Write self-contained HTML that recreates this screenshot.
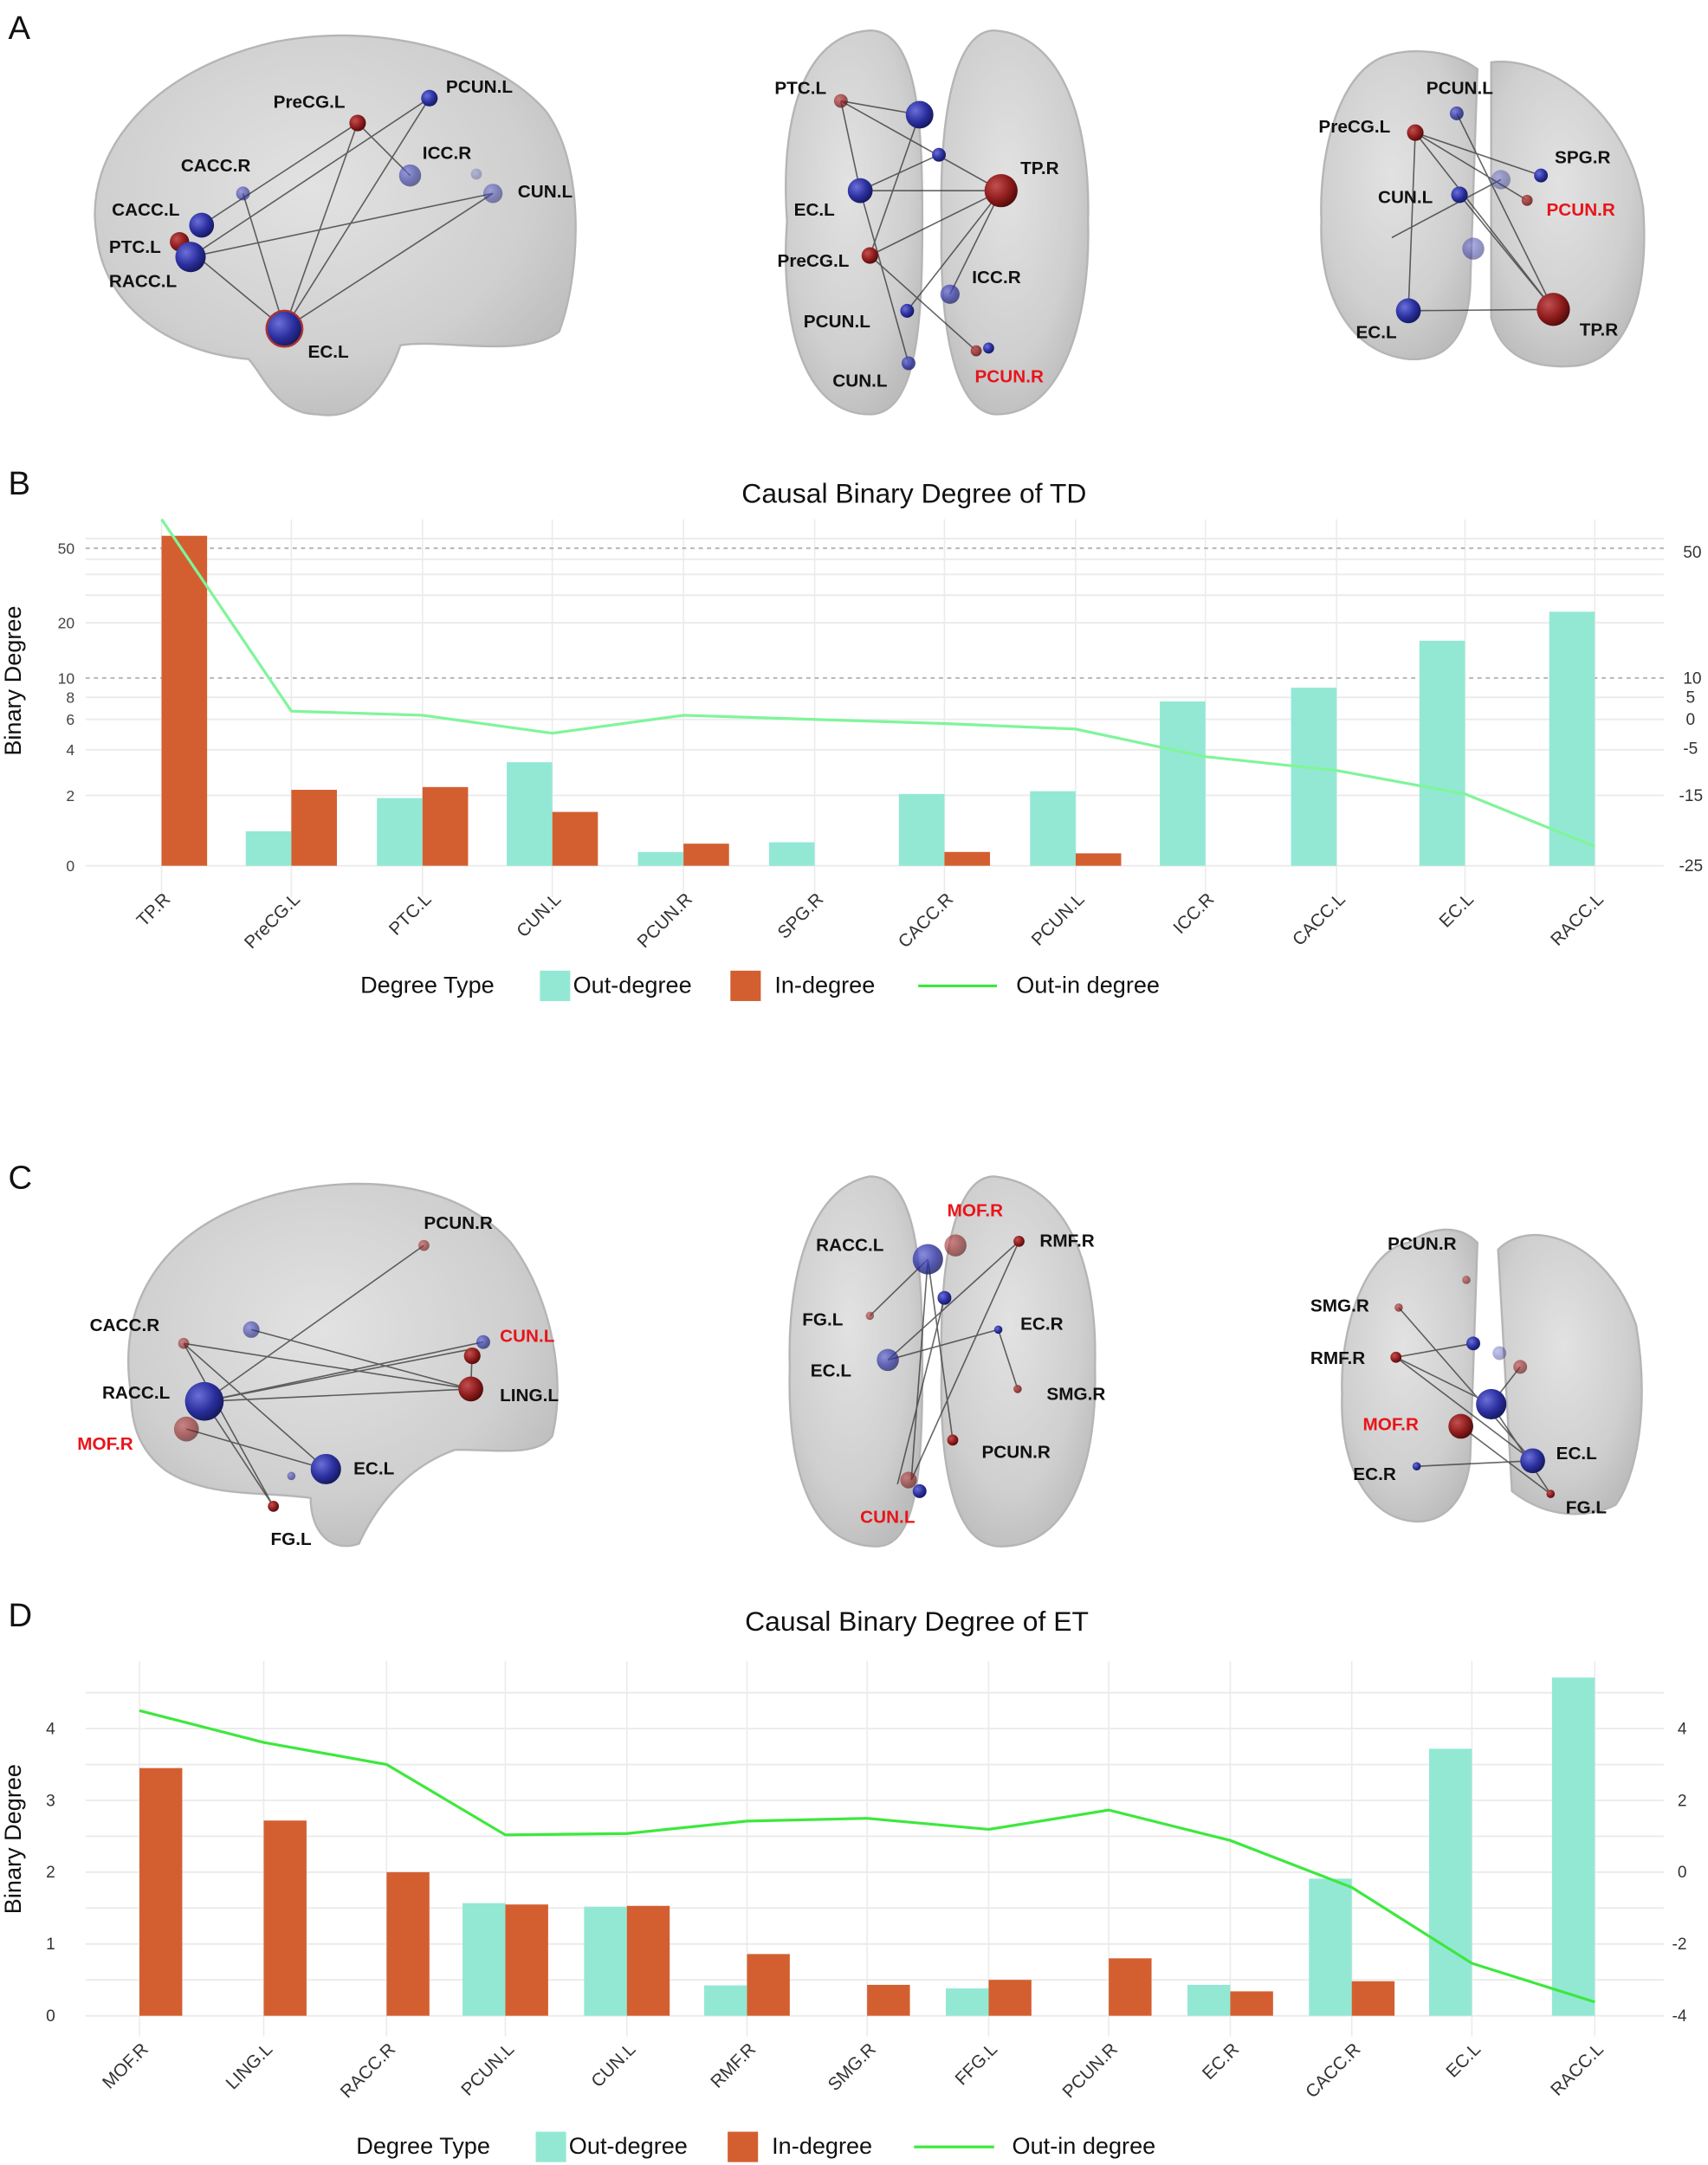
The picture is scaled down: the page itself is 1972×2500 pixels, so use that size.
<!DOCTYPE html>
<html><head><meta charset="utf-8"><style>
html,body{margin:0;padding:0;background:#fff}
svg{display:block}
.nl{font:bold 13px "Liberation Sans",sans-serif;fill:#111}
.nr{font:bold 13px "Liberation Sans",sans-serif;fill:#e8141a}
.pl{font:24px "Liberation Sans",sans-serif;fill:#111}
.tt{font:20px "Liberation Sans",sans-serif;fill:#111}
.tk{font:11px "Liberation Sans",sans-serif;fill:#444}
.tkr{font:12px "Liberation Sans",sans-serif;fill:#333}
.xl{font:13px "Liberation Sans",sans-serif;fill:#333}
.lg{font:17px "Liberation Sans",sans-serif;fill:#111}
.ax{font:17px "Liberation Sans",sans-serif;fill:#111}
.g{stroke:#ebebeb;stroke-width:1.2}
.gv{stroke:#ebebeb;stroke-width:1}
.br{fill:url(#brain);stroke:#b5b5b5;stroke-width:1.5}
.e{stroke:#333;stroke-width:1;opacity:.75}
</style></head><body>
<svg width="1972" height="2500" viewBox="0 0 1237 1568" xmlns="http://www.w3.org/2000/svg">
<defs>
<radialGradient id="brain" cx="45%" cy="40%" r="65%"><stop offset="0" stop-color="#e2e2e2"/><stop offset="0.7" stop-color="#cfcfcf"/><stop offset="1" stop-color="#bcbcbc"/></radialGradient>
<radialGradient id="bl" cx="35%" cy="35%" r="70%"><stop offset="0" stop-color="#6b6fd8"/><stop offset="0.6" stop-color="#2a2f9e"/><stop offset="1" stop-color="#14185a"/></radialGradient>
<radialGradient id="rd" cx="35%" cy="35%" r="70%"><stop offset="0" stop-color="#c25050"/><stop offset="0.6" stop-color="#8e1c1c"/><stop offset="1" stop-color="#4e0b0b"/></radialGradient>
</defs>

<!-- Panel labels -->
<text class="pl" x="6" y="28">A</text>
<text class="pl" x="6" y="358">B</text>
<text class="pl" x="6" y="861">C</text>
<text class="pl" x="6" y="1178">D</text>

<!-- ===== A brains ===== -->
<g>
<path class="br" d="M70,170 C60,110 110,50 200,30 C280,15 360,40 395,80 C425,120 420,200 405,240 C380,260 320,245 290,250 C280,280 260,305 230,300 C200,300 190,270 180,260 C120,255 75,220 70,170 Z"/>
<path class="br" d="M630,22 C580,25 565,90 570,160 C565,230 580,300 630,300 C665,300 668,230 668,160 C668,90 665,22 630,22 Z"/>
<path class="br" d="M720,22 C690,22 680,90 682,160 C680,230 690,300 722,300 C770,300 790,230 788,160 C790,90 770,25 720,22 Z"/>
<path class="br" d="M1005,40 C970,50 955,110 957,160 C955,210 975,255 1020,260 C1050,262 1065,240 1065,200 L1070,50 C1050,35 1020,35 1005,40 Z"/>
<path class="br" d="M1080,45 C1120,40 1180,80 1190,150 C1195,220 1175,262 1140,265 C1100,268 1085,250 1080,230 Z"/>
<g class="e">
<line x1="259" y1="89" x2="146" y2="163"/><line x1="259" y1="89" x2="206" y2="238"/><line x1="311" y1="71" x2="138" y2="186"/>
<line x1="311" y1="71" x2="206" y2="238"/><line x1="357" y1="140" x2="138" y2="186"/><line x1="357" y1="140" x2="206" y2="238"/>
<line x1="130" y1="175" x2="206" y2="238"/><line x1="259" y1="89" x2="297" y2="127"/><line x1="176" y1="140" x2="206" y2="238"/>
<line x1="609" y1="73" x2="666" y2="83"/><line x1="609" y1="73" x2="725" y2="138"/><line x1="609" y1="73" x2="623" y2="138"/>
<line x1="623" y1="138" x2="725" y2="138"/><line x1="630" y1="185" x2="725" y2="138"/><line x1="630" y1="185" x2="707" y2="254"/>
<line x1="725" y1="138" x2="657" y2="225"/><line x1="725" y1="138" x2="688" y2="213"/><line x1="666" y1="83" x2="630" y2="185"/>
<line x1="623" y1="138" x2="658" y2="263"/><line x1="680" y1="112" x2="623" y2="138"/>
<line x1="1025" y1="96" x2="1106" y2="145"/><line x1="1025" y1="96" x2="1125" y2="224"/><line x1="1025" y1="96" x2="1020" y2="225"/>
<line x1="1020" y1="225" x2="1125" y2="224"/><line x1="1055" y1="82" x2="1125" y2="224"/><line x1="1057" y1="141" x2="1125" y2="224"/>
<line x1="1008" y1="172" x2="1087" y2="130"/><line x1="1116" y1="127" x2="1025" y2="96"/>
</g>
<!-- sagittal nodes -->
<circle cx="311" cy="71" r="6" fill="url(#bl)"/>
<circle cx="259" cy="89" r="6" fill="url(#rd)"/>
<circle cx="297" cy="127" r="8" fill="url(#bl)" opacity=".6"/>
<circle cx="345" cy="126" r="4" fill="url(#bl)" opacity=".3"/>
<circle cx="357" cy="140" r="7" fill="url(#bl)" opacity=".5"/>
<circle cx="176" cy="140" r="5" fill="url(#bl)" opacity=".6"/>
<circle cx="146" cy="163" r="9" fill="url(#bl)"/>
<circle cx="130" cy="175" r="7" fill="url(#rd)"/>
<circle cx="138" cy="186" r="11" fill="url(#bl)"/>
<circle cx="206" cy="238" r="13" fill="url(#bl)" stroke="#a33" stroke-width="1.5"/>
<text class="nl" x="323" y="67">PCUN.L</text><text class="nl" x="198" y="78">PreCG.L</text>
<text class="nl" x="306" y="115">ICC.R</text><text class="nl" x="131" y="124">CACC.R</text>
<text class="nl" x="375" y="143">CUN.L</text><text class="nl" x="81" y="156">CACC.L</text>
<text class="nl" x="79" y="183">PTC.L</text><text class="nl" x="79" y="208">RACC.L</text><text class="nl" x="223" y="259">EC.L</text>
<!-- axial -->
<circle cx="609" cy="73" r="5" fill="url(#rd)" opacity=".7"/>
<circle cx="666" cy="83" r="10" fill="url(#bl)"/>
<circle cx="680" cy="112" r="5" fill="url(#bl)"/>
<circle cx="725" cy="138" r="12" fill="url(#rd)"/>
<circle cx="623" cy="138" r="9" fill="url(#bl)"/>
<circle cx="630" cy="185" r="6" fill="url(#rd)"/>
<circle cx="688" cy="213" r="7" fill="url(#bl)" opacity=".7"/>
<circle cx="657" cy="225" r="5" fill="url(#bl)"/>
<circle cx="658" cy="263" r="5" fill="url(#bl)" opacity=".8"/>
<circle cx="707" cy="254" r="4" fill="url(#rd)" opacity=".8"/>
<circle cx="716" cy="252" r="4" fill="url(#bl)"/>
<text class="nl" x="561" y="68">PTC.L</text><text class="nl" x="739" y="126">TP.R</text>
<text class="nl" x="575" y="156">EC.L</text><text class="nl" x="563" y="193">PreCG.L</text>
<text class="nl" x="704" y="205">ICC.R</text><text class="nl" x="582" y="237">PCUN.L</text>
<text class="nl" x="603" y="280">CUN.L</text><text class="nr" x="706" y="277">PCUN.R</text>
<!-- coronal -->
<circle cx="1055" cy="82" r="5" fill="url(#bl)" opacity=".8"/>
<circle cx="1025" cy="96" r="6" fill="url(#rd)"/>
<circle cx="1087" cy="130" r="7" fill="url(#bl)" opacity=".4"/>
<circle cx="1116" cy="127" r="5" fill="url(#bl)"/>
<circle cx="1057" cy="141" r="6" fill="url(#bl)"/>
<circle cx="1106" cy="145" r="4" fill="url(#rd)" opacity=".8"/>
<circle cx="1067" cy="180" r="8" fill="url(#bl)" opacity=".5"/>
<circle cx="1020" cy="225" r="9" fill="url(#bl)"/>
<circle cx="1125" cy="224" r="12" fill="url(#rd)"/>
<text class="nl" x="1033" y="68">PCUN.L</text><text class="nl" x="955" y="96">PreCG.L</text>
<text class="nl" x="1126" y="118">SPG.R</text><text class="nl" x="998" y="147">CUN.L</text>
<text class="nr" x="1120" y="156">PCUN.R</text><text class="nl" x="982" y="245">EC.L</text><text class="nl" x="1144" y="243">TP.R</text>
</g>

<!-- ===== Chart B ===== -->
<g>
<text class="tt" x="662" y="364" text-anchor="middle">Causal Binary Degree of TD</text>
<g class="gv">
<line x1="117" y1="376" x2="117" y2="650"/><line x1="211" y1="376" x2="211" y2="650"/><line x1="306" y1="376" x2="306" y2="650"/>
<line x1="400" y1="376" x2="400" y2="650"/><line x1="495" y1="376" x2="495" y2="650"/><line x1="590" y1="376" x2="590" y2="650"/>
<line x1="684" y1="376" x2="684" y2="650"/><line x1="779" y1="376" x2="779" y2="650"/><line x1="873" y1="376" x2="873" y2="650"/>
<line x1="968" y1="376" x2="968" y2="650"/><line x1="1061" y1="376" x2="1061" y2="650"/><line x1="1155" y1="376" x2="1155" y2="650"/>
</g>
<g class="g">
<line x1="62" y1="627" x2="1205" y2="627"/><line x1="62" y1="576" x2="1205" y2="576"/><line x1="62" y1="543" x2="1205" y2="543"/>
<line x1="62" y1="521" x2="1205" y2="521"/><line x1="62" y1="505" x2="1205" y2="505"/><line x1="62" y1="451" x2="1205" y2="451"/>
<line x1="62" y1="431" x2="1205" y2="431"/><line x1="62" y1="416" x2="1205" y2="416"/><line x1="62" y1="405" x2="1205" y2="405"/>
<line x1="62" y1="390" x2="1205" y2="390"/>
</g>
<line x1="62" y1="397" x2="1205" y2="397" stroke="#bbb" stroke-width="1.3" stroke-dasharray="3,3"/>
<line x1="62" y1="491" x2="1205" y2="491" stroke="#bbb" stroke-width="1.3" stroke-dasharray="3,3"/>
<g class="tk" text-anchor="end">
<text x="54" y="631">0</text><text x="54" y="580">2</text><text x="54" y="547">4</text><text x="54" y="525">6</text>
<text x="54" y="509">8</text><text x="54" y="495">10</text><text x="54" y="455">20</text><text x="54" y="401">50</text>
</g>
<g class="tkr">
<text x="1219" y="404">50</text><text x="1219" y="495">10</text><text x="1221" y="509">5</text><text x="1221" y="525">0</text>
<text x="1219" y="546">-5</text><text x="1216" y="580">-15</text><text x="1216" y="631">-25</text>
</g>
<text class="ax" transform="translate(15,493) rotate(-90)" text-anchor="middle">Binary Degree</text>
<g fill="#93e8d4">
<rect x="178" y="602" width="33" height="25"/><rect x="273" y="578" width="33" height="49"/><rect x="367" y="552" width="33" height="75"/>
<rect x="462" y="617" width="33" height="10"/><rect x="557" y="610" width="33" height="17"/><rect x="651" y="575" width="33" height="52"/>
<rect x="746" y="573" width="33" height="54"/><rect x="840" y="508" width="33" height="119"/><rect x="935" y="498" width="33" height="129"/>
<rect x="1028" y="464" width="33" height="163"/><rect x="1122" y="443" width="33" height="184"/>
</g>
<g fill="#d35f31">
<rect x="117" y="388" width="33" height="239"/><rect x="211" y="572" width="33" height="55"/><rect x="306" y="570" width="33" height="57"/>
<rect x="400" y="588" width="33" height="39"/><rect x="495" y="611" width="33" height="16"/><rect x="684" y="617" width="33" height="10"/>
<rect x="779" y="618" width="33" height="9"/>
</g>
<polyline fill="none" stroke="#7ff59a" stroke-width="2" points="117,376 211,515 306,518 400,531 495,518 590,521 684,524 779,528 873,548 968,558 1061,575 1155,613"/>
<g class="xl" text-anchor="end">
<text transform="translate(124,652) rotate(-45)">TP.R</text><text transform="translate(218,652) rotate(-45)">PreCG.L</text>
<text transform="translate(313,652) rotate(-45)">PTC.L</text><text transform="translate(407,652) rotate(-45)">CUN.L</text>
<text transform="translate(502,652) rotate(-45)">PCUN.R</text><text transform="translate(597,652) rotate(-45)">SPG.R</text>
<text transform="translate(691,652) rotate(-45)">CACC.R</text><text transform="translate(786,652) rotate(-45)">PCUN.L</text>
<text transform="translate(880,652) rotate(-45)">ICC.R</text><text transform="translate(975,652) rotate(-45)">CACC.L</text>
<text transform="translate(1068,652) rotate(-45)">EC.L</text><text transform="translate(1162,652) rotate(-45)">RACC.L</text>
</g>
<text class="lg" x="261" y="719">Degree Type</text>
<rect x="391" y="703" width="22" height="22" fill="#93e8d4"/><text class="lg" x="415" y="719">Out-degree</text>
<rect x="529" y="703" width="22" height="22" fill="#d35f31"/><text class="lg" x="561" y="719">In-degree</text>
<line x1="665" y1="714" x2="722" y2="714" stroke="#3de83d" stroke-width="2"/><text class="lg" x="736" y="719">Out-in degree</text>
</g>

<!-- ===== C brains ===== -->
<g>
<path class="br" d="M95,1010 C85,950 110,890 200,865 C260,850 330,855 370,900 C400,940 410,1000 400,1040 C390,1055 360,1050 330,1050 C300,1060 275,1085 260,1118 C240,1125 225,1110 225,1085 C190,1080 150,1085 120,1065 C100,1050 95,1030 95,1010 Z"/>
<path class="br" d="M630,852 C585,860 570,930 572,990 C570,1060 585,1120 635,1120 C665,1120 668,1060 668,990 C668,920 665,852 630,852 Z"/>
<path class="br" d="M720,852 C690,852 680,920 682,990 C680,1060 690,1120 725,1120 C775,1120 795,1060 793,990 C795,920 775,858 720,852 Z"/>
<path class="br" d="M1020,900 C990,905 970,960 972,1010 C970,1060 990,1100 1025,1102 C1050,1103 1065,1080 1065,1050 L1070,900 C1055,885 1035,890 1020,900 Z"/>
<path class="br" d="M1085,905 C1110,880 1165,900 1185,960 C1195,1020 1185,1070 1170,1090 C1150,1100 1120,1100 1095,1080 Z"/>
<g class="e">
<line x1="148" y1="1015" x2="342" y2="977"/><line x1="148" y1="1015" x2="341" y2="1006"/><line x1="148" y1="1015" x2="350" y2="972"/>
<line x1="133" y1="973" x2="341" y2="1006"/><line x1="182" y1="963" x2="341" y2="1006"/><line x1="133" y1="973" x2="236" y2="1064"/>
<line x1="148" y1="1015" x2="307" y2="902"/><line x1="148" y1="1015" x2="198" y2="1091"/><line x1="135" y1="1035" x2="236" y2="1064"/>
<line x1="133" y1="973" x2="198" y2="1091"/><line x1="342" y1="977" x2="341" y2="1006"/>
<line x1="672" y1="912" x2="660" y2="1072"/><line x1="738" y1="899" x2="643" y2="985"/><line x1="738" y1="899" x2="660" y2="1072"/>
<line x1="672" y1="912" x2="690" y2="1043"/><line x1="723" y1="963" x2="643" y2="985"/><line x1="723" y1="963" x2="737" y2="1006"/>
<line x1="672" y1="912" x2="630" y2="953"/><line x1="684" y1="940" x2="650" y2="1075"/>
<line x1="1011" y1="983" x2="1067" y2="973"/><line x1="1011" y1="983" x2="1080" y2="1017"/><line x1="1011" y1="983" x2="1110" y2="1058"/>
<line x1="1026" y1="1062" x2="1110" y2="1058"/><line x1="1058" y1="1033" x2="1123" y2="1082"/><line x1="1080" y1="1017" x2="1123" y2="1082"/>
<line x1="1013" y1="947" x2="1110" y2="1058"/><line x1="1080" y1="1017" x2="1101" y2="990"/>
</g>
<circle cx="307" cy="902" r="4" fill="url(#rd)" opacity=".6"/>
<circle cx="182" cy="963" r="6" fill="url(#bl)" opacity=".6"/>
<circle cx="133" cy="973" r="4" fill="url(#rd)" opacity=".6"/>
<circle cx="350" cy="972" r="5" fill="url(#bl)" opacity=".7"/>
<circle cx="342" cy="982" r="6" fill="url(#rd)"/>
<circle cx="341" cy="1006" r="9" fill="url(#rd)"/>
<circle cx="148" cy="1015" r="14" fill="url(#bl)"/>
<circle cx="135" cy="1035" r="9" fill="url(#rd)" opacity=".6"/>
<circle cx="236" cy="1064" r="11" fill="url(#bl)"/>
<circle cx="211" cy="1069" r="3" fill="url(#bl)" opacity=".6"/>
<circle cx="198" cy="1091" r="4" fill="url(#rd)"/>
<text class="nl" x="307" y="890">PCUN.R</text><text class="nl" x="65" y="964">CACC.R</text>
<text class="nr" x="362" y="972">CUN.L</text><text class="nl" x="74" y="1013">RACC.L</text>
<text class="nl" x="362" y="1015">LING.L</text><text class="nr" x="56" y="1050">MOF.R</text>
<text class="nl" x="256" y="1068">EC.L</text><text class="nl" x="196" y="1119">FG.L</text>
<circle cx="692" cy="902" r="8" fill="url(#rd)" opacity=".6"/>
<circle cx="738" cy="899" r="4" fill="url(#rd)"/>
<circle cx="672" cy="912" r="11" fill="url(#bl)" opacity=".8"/>
<circle cx="684" cy="940" r="5" fill="url(#bl)"/>
<circle cx="630" cy="953" r="3" fill="url(#rd)" opacity=".6"/>
<circle cx="723" cy="963" r="3" fill="url(#bl)"/>
<circle cx="643" cy="985" r="8" fill="url(#bl)" opacity=".7"/>
<circle cx="737" cy="1006" r="3" fill="url(#rd)" opacity=".8"/>
<circle cx="690" cy="1043" r="4" fill="url(#rd)"/>
<circle cx="658" cy="1072" r="6" fill="url(#rd)" opacity=".6"/>
<circle cx="666" cy="1080" r="5" fill="url(#bl)"/>
<text class="nr" x="686" y="881">MOF.R</text><text class="nl" x="591" y="906">RACC.L</text>
<text class="nl" x="753" y="903">RMF.R</text><text class="nl" x="581" y="960">FG.L</text>
<text class="nl" x="739" y="963">EC.R</text><text class="nl" x="587" y="997">EC.L</text>
<text class="nl" x="758" y="1014">SMG.R</text><text class="nl" x="711" y="1056">PCUN.R</text>
<text class="nr" x="623" y="1103">CUN.L</text>
<circle cx="1062" cy="927" r="3" fill="url(#rd)" opacity=".6"/>
<circle cx="1013" cy="947" r="3" fill="url(#rd)" opacity=".7"/>
<circle cx="1067" cy="973" r="5" fill="url(#bl)"/>
<circle cx="1086" cy="980" r="5" fill="url(#bl)" opacity=".4"/>
<circle cx="1101" cy="990" r="5" fill="url(#rd)" opacity=".6"/>
<circle cx="1011" cy="983" r="4" fill="url(#rd)"/>
<circle cx="1080" cy="1017" r="11" fill="url(#bl)"/>
<circle cx="1058" cy="1033" r="9" fill="url(#rd)"/>
<circle cx="1110" cy="1058" r="9" fill="url(#bl)"/>
<circle cx="1026" cy="1062" r="3" fill="url(#bl)"/>
<circle cx="1123" cy="1082" r="3" fill="url(#rd)"/>
<text class="nl" x="1005" y="905">PCUN.R</text><text class="nl" x="949" y="950">SMG.R</text>
<text class="nl" x="949" y="988">RMF.R</text><text class="nr" x="987" y="1036">MOF.R</text>
<text class="nl" x="1127" y="1057">EC.L</text><text class="nl" x="980" y="1072">EC.R</text><text class="nl" x="1134" y="1096">FG.L</text>
</g>

<!-- ===== Chart D ===== -->
<g>
<text class="tt" x="664" y="1181" text-anchor="middle">Causal Binary Degree of ET</text>
<g class="gv">
<line x1="101" y1="1203" x2="101" y2="1475"/><line x1="191" y1="1203" x2="191" y2="1475"/><line x1="280" y1="1203" x2="280" y2="1475"/>
<line x1="366" y1="1203" x2="366" y2="1475"/><line x1="454" y1="1203" x2="454" y2="1475"/><line x1="541" y1="1203" x2="541" y2="1475"/>
<line x1="628" y1="1203" x2="628" y2="1475"/><line x1="716" y1="1203" x2="716" y2="1475"/><line x1="803" y1="1203" x2="803" y2="1475"/>
<line x1="891" y1="1203" x2="891" y2="1475"/><line x1="979" y1="1203" x2="979" y2="1475"/><line x1="1066" y1="1203" x2="1066" y2="1475"/>
<line x1="1155" y1="1203" x2="1155" y2="1475"/>
</g>
<g class="g">
<line x1="62" y1="1460" x2="1205" y2="1460"/><line x1="62" y1="1434" x2="1205" y2="1434"/><line x1="62" y1="1408" x2="1205" y2="1408"/>
<line x1="62" y1="1382" x2="1205" y2="1382"/><line x1="62" y1="1356" x2="1205" y2="1356"/><line x1="62" y1="1330" x2="1205" y2="1330"/>
<line x1="62" y1="1304" x2="1205" y2="1304"/><line x1="62" y1="1278" x2="1205" y2="1278"/><line x1="62" y1="1252" x2="1205" y2="1252"/>
<line x1="62" y1="1226" x2="1205" y2="1226"/>
</g>
<g class="tkr" text-anchor="end">
<text x="40" y="1464">0</text><text x="40" y="1412">1</text><text x="40" y="1360">2</text><text x="40" y="1308">3</text><text x="40" y="1256">4</text>
</g>
<g class="tkr">
<text x="1215" y="1256">4</text><text x="1215" y="1308">2</text><text x="1215" y="1360">0</text><text x="1211" y="1412">-2</text><text x="1211" y="1464">-4</text>
</g>
<text class="ax" transform="translate(15,1332) rotate(-90)" text-anchor="middle">Binary Degree</text>
<g fill="#93e8d4">
<rect x="335" y="1378.4" width="31" height="81.6"/><rect x="423" y="1381" width="31" height="79"/><rect x="510" y="1438" width="31" height="22"/>
<rect x="685" y="1440.2" width="31" height="19.8"/><rect x="860" y="1437.6" width="31" height="22.4"/><rect x="948" y="1360.7" width="31" height="99.3"/>
<rect x="1035" y="1266.6" width="31" height="193.4"/><rect x="1124" y="1215" width="31" height="245"/>
</g>
<g fill="#d35f31">
<rect x="101" y="1280.6" width="31" height="179.4"/><rect x="191" y="1318.6" width="31" height="141.4"/><rect x="280" y="1356" width="31" height="104"/>
<rect x="366" y="1379.4" width="31" height="80.6"/><rect x="454" y="1380.4" width="31" height="79.6"/><rect x="541" y="1415.3" width="31" height="44.7"/>
<rect x="628" y="1437.6" width="31" height="22.4"/><rect x="716" y="1434" width="31" height="26"/><rect x="803" y="1418.4" width="31" height="41.6"/>
<rect x="891" y="1442.3" width="31" height="17.7"/><rect x="979" y="1435" width="31" height="25"/>
</g>
<polyline fill="none" stroke="#3de83d" stroke-width="2" points="101,1239 191,1262 280,1278 366,1329 454,1328 541,1319 628,1317 716,1325 803,1311 891,1333 979,1367 1066,1422 1155,1450"/>
<g class="xl" text-anchor="end">
<text transform="translate(108,1485) rotate(-45)">MOF.R</text><text transform="translate(198,1485) rotate(-45)">LING.L</text>
<text transform="translate(287,1485) rotate(-45)">RACC.R</text><text transform="translate(373,1485) rotate(-45)">PCUN.L</text>
<text transform="translate(461,1485) rotate(-45)">CUN.L</text><text transform="translate(548,1485) rotate(-45)">RMF.R</text>
<text transform="translate(635,1485) rotate(-45)">SMG.R</text><text transform="translate(723,1485) rotate(-45)">FFG.L</text>
<text transform="translate(810,1485) rotate(-45)">PCUN.R</text><text transform="translate(898,1485) rotate(-45)">EC.R</text>
<text transform="translate(986,1485) rotate(-45)">CACC.R</text><text transform="translate(1073,1485) rotate(-45)">EC.L</text>
<text transform="translate(1162,1485) rotate(-45)">RACC.L</text>
</g>
<text class="lg" x="258" y="1560">Degree Type</text>
<rect x="388" y="1544" width="22" height="22" fill="#93e8d4"/><text class="lg" x="412" y="1560">Out-degree</text>
<rect x="527" y="1544" width="22" height="22" fill="#d35f31"/><text class="lg" x="559" y="1560">In-degree</text>
<line x1="662" y1="1555" x2="720" y2="1555" stroke="#3de83d" stroke-width="2"/><text class="lg" x="733" y="1560">Out-in degree</text>
</g>
</svg>
</body></html>
